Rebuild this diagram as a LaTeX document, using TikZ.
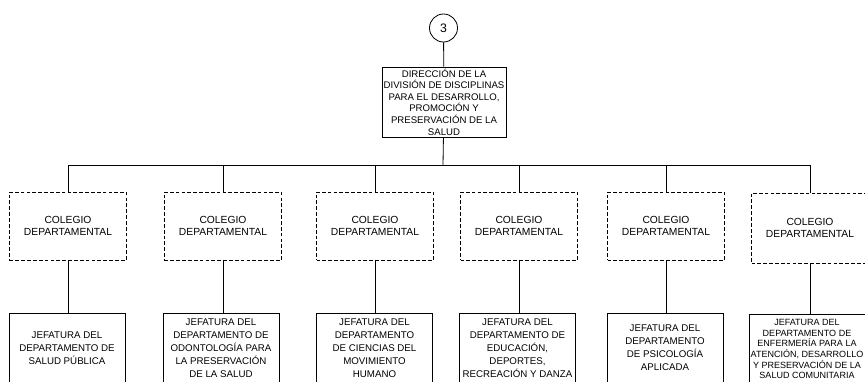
\documentclass[tikz,border=0pt]{standalone}
\usepackage{fontspec}
\setmainfont{Liberation Sans}

\tikzset{
  conector/.style={circle,draw,line width=0.7pt,minimum size=0.84cm,inner sep=0pt,font=\fontsize{10.5}{12}\selectfont},
  direccion/.style={draw,line width=0.7pt,minimum width=3.72cm,minimum height=2.1cm,align=center,inner sep=1pt,font=\fontsize{8.2}{9.9}\selectfont},
  colegio/.style={draw,dash pattern=on 3.2pt off 1.8pt,line width=0.7pt,minimum width=3.51cm,minimum height=2.04cm,align=center,font=\fontsize{8.8}{10.8}\selectfont},
  jefatura/.style={draw,line width=0.7pt,minimum width=3.48cm,minimum height=2.1cm,align=center,inner sep=1pt,font=\fontsize{8.3}{11}\selectfont},
  linea/.style={line width=0.7pt}
}

\begin{document}
\begin{tikzpicture}[x=0.03cm,y=-0.03cm]

\useasboundingbox (0,0) rectangle (865,381);
\clip (0,0) rectangle (865,381);

% Conector de pagina
\node (con) at (443.5,28) [conector] {3};

% Direccion de la division
\node (dir) at (444,102) [direccion] {DIRECCIÓN DE LA\\DIVISIÓN DE DISCIPLINAS\\PARA EL DESARROLLO,\\PROMOCIÓN Y\\PRESERVACIÓN DE LA\\SALUD};
\draw[linea] (con) -- (dir);

% Colegios departamentales
\node (c1) at (68,226) [colegio] {COLEGIO\\DEPARTAMENTAL};
\node (c2) at (223,226) [colegio] {COLEGIO\\DEPARTAMENTAL};
\node (c3) at (375,226) [colegio] {COLEGIO\\DEPARTAMENTAL};
\node (c4) at (519,226) [colegio] {COLEGIO\\DEPARTAMENTAL};
\node (c5) at (666,226) [colegio] {COLEGIO\\DEPARTAMENTAL};
\node (c6) at (810,228) [colegio,minimum height=2.1cm] {COLEGIO\\DEPARTAMENTAL};

% Jefaturas de departamento
\node (j1) at (67,348) [jefatura] {JEFATURA DEL\\DEPARTAMENTO DE\\SALUD PÚBLICA};
\node (j2) at (221,348) [jefatura] {JEFATURA DEL\\DEPARTAMENTO DE\\ODONTOLOGÍA PARA\\LA PRESERVACIÓN\\DE LA SALUD};
\node (j3) at (374.5,348) [jefatura] {JEFATURA DEL\\DEPARTAMENTO\\DE CIENCIAS DEL\\MOVIMIENTO\\HUMANO};
\node (j4) at (517.5,348) [jefatura] {JEFATURA DEL\\DEPARTAMENTO DE\\EDUCACIÓN,\\DEPORTES,\\RECREACIÓN Y DANZA};
\node (j5) at (665,348) [jefatura] {JEFATURA DEL\\DEPARTAMENTO\\DE PSICOLOGÍA\\APLICADA};
\node (j6) at (807,349) [jefatura,font=\fontsize{7.7}{9.1}\selectfont] {JEFATURA DEL\\DEPARTAMENTO DE\\ENFERMERÍA PARA LA\\ATENCIÓN, DESARROLLO\\Y PRESERVACIÓN DE LA\\SALUD COMUNITARIA};

% Lineas de mando
\coordinate (bus) at (443,165);
\draw[linea] (dir) -- (bus);
\draw[linea] (c1.north) -- (c1.north |- bus) -- (c6.north |- bus) -- (c6.north);
\foreach \i in {2,...,5}
  \draw[linea] (c\i.north) -- (c\i.north |- bus);
\foreach \i in {1,...,6}
  \draw[linea] (c\i.south) -- (c\i.south |- j\i.north);

\end{tikzpicture}
\end{document}
